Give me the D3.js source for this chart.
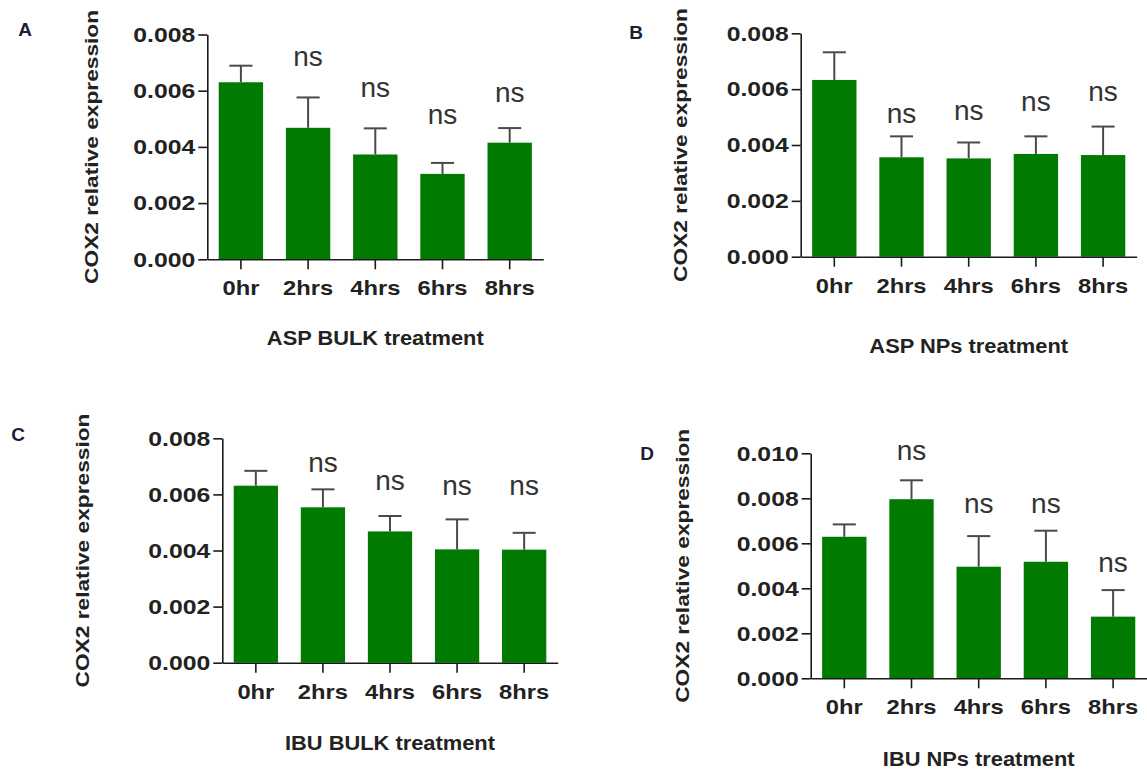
<!DOCTYPE html>
<html><head><meta charset="utf-8">
<script src="https://cdn.jsdelivr.net/npm/d3@7"></script>
<style>body{margin:0;background:#fff} svg{display:block}</style>
</head><body>
<svg id="chart" width="1147" height="771"></svg>
<script>
// ---------- data ----------
const categories = ["0hr", "2hrs", "4hrs", "6hrs", "8hrs"];
const yTicks8 = [0, 0.002, 0.004, 0.006, 0.008];
const yTicks10 = [0, 0.002, 0.004, 0.006, 0.008, 0.010];

const aspBulkMean = [0.00630, 0.00468, 0.00373, 0.00304, 0.00415];
const aspBulkSEM  = [0.00059, 0.00108, 0.00093, 0.00039, 0.00052];
const aspBulkNs   = [null, 0.00689, 0.00579, 0.00481, 0.00559];

const aspNpMean = [0.00633, 0.00356, 0.00352, 0.00368, 0.00364];
const aspNpSEM  = [0.00099, 0.00075, 0.00057, 0.00063, 0.00102];
const aspNpNs   = [null, 0.00478, 0.00490, 0.00520, 0.00556];

const ibuBulkMean = [0.00631, 0.00554, 0.00468, 0.00404, 0.00403];
const ibuBulkSEM  = [0.00053, 0.00064, 0.00055, 0.00107, 0.00060];
const ibuBulkNs   = [null, 0.00681, 0.00616, 0.00598, 0.00598];

const ibuNpMean = [0.00629, 0.00796, 0.00496, 0.00518, 0.00274];
const ibuNpSEM  = [0.00055, 0.00084, 0.00136, 0.00138, 0.00118];
const ibuNpNs   = [null, 0.00970, 0.00733, 0.00733, 0.00471];

const yTitle = "COX2 relative expression";

// ---------- layout ----------
const panels = [
  {letter: "A", title: "ASP BULK treatment", mean: aspBulkMean, sem: aspBulkSEM, ns: aspBulkNs, yMax: 0.008, ticks: yTicks8,
   L: {x0: 207.3, x1: 543.3, yTop: 34.5, y0: 259.3, yTitleX: 91, xTitleY: 338.3, letterX: 25, letterY: 29}},
  {letter: "B", title: "ASP NPs treatment", mean: aspNpMean, sem: aspNpSEM, ns: aspNpNs, yMax: 0.008, ticks: yTicks8,
   L: {x0: 800.7, x1: 1136.7, yTop: 33.3, y0: 256.7, yTitleX: 680, xTitleY: 346, letterX: 636, letterY: 32.5}},
  {letter: "C", title: "IBU BULK treatment", mean: ibuBulkMean, sem: ibuBulkSEM, ns: ibuBulkNs, yMax: 0.008, ticks: yTicks8,
   L: {x0: 222.3, x1: 557.7, yTop: 438.3, y0: 662.7, yTitleX: 82, xTitleY: 743.3, letterX: 18, letterY: 434}},
  {letter: "D", title: "IBU NPs treatment", mean: ibuNpMean, sem: ibuNpSEM, ns: ibuNpNs, yMax: 0.010, ticks: yTicks10,
   L: {x0: 810.7, x1: 1146.7, yTop: 453.3, y0: 678.3, yTitleX: 682, xTitleY: 759, letterX: 647, letterY: 453}}
];

const FONT = "Arial, 'Liberation Sans', Helvetica, sans-serif";
const BAR = "#007a00";
const ERR = "#4a4a4a";
const AXIS = "#1a1a1a";
const TXT = "#222";

function stretch(sel, k) {
  sel.each(function () {
    const w = this.getComputedTextLength();
    this.setAttribute("textLength", w * k);
    this.setAttribute("lengthAdjust", "spacingAndGlyphs");
  });
}

const svg = d3.select("#chart");

panels.forEach(p => {
  const L = p.L;
  const x = d3.scaleBand().domain(categories).range([L.x0, L.x1]).paddingInner(0.34).paddingOuter(0.17);
  const y = d3.scaleLinear().domain([0, p.yMax]).range([L.y0, L.yTop]);
  const g = svg.append("g");
  const cx = d => x(d) + x.bandwidth() / 2;

  // bars
  g.selectAll("rect.bar").data(categories).join("rect")
    .attr("class", "bar")
    .attr("x", d => x(d)).attr("width", x.bandwidth())
    .attr("y", (d, i) => y(p.mean[i]))
    .attr("height", (d, i) => y(0) - y(p.mean[i]))
    .attr("fill", BAR);

  // error bars (upper)
  const capW = x.bandwidth() * 0.52;
  g.selectAll("line.ev").data(categories).join("line")
    .attr("class", "ev")
    .attr("x1", cx).attr("x2", cx)
    .attr("y1", (d, i) => y(p.mean[i]))
    .attr("y2", (d, i) => y(p.mean[i] + p.sem[i]))
    .attr("stroke", ERR).attr("stroke-width", 2);
  g.selectAll("line.ec").data(categories).join("line")
    .attr("class", "ec")
    .attr("x1", d => cx(d) - capW / 2).attr("x2", d => cx(d) + capW / 2)
    .attr("y1", (d, i) => y(p.mean[i] + p.sem[i]))
    .attr("y2", (d, i) => y(p.mean[i] + p.sem[i]))
    .attr("stroke", ERR).attr("stroke-width", 2);

  // ns labels
  g.selectAll("text.ns").data(categories.filter((d, i) => p.ns[i] != null)).join("text")
    .attr("class", "ns")
    .attr("x", cx)
    .attr("y", d => y(p.ns[categories.indexOf(d)]))
    .attr("text-anchor", "middle")
    .attr("font-family", FONT).attr("font-size", 28).attr("fill", "#333")
    .text("ns");

  // y axis
  const ya = g.append("g").attr("transform", `translate(${L.x0},0)`)
    .call(d3.axisLeft(y).tickValues(p.ticks).tickFormat(d3.format(".3f")).tickSize(9).tickPadding(3).tickSizeOuter(0));
  ya.select(".domain").attr("stroke", AXIS).attr("stroke-width", 1.6);
  ya.selectAll(".tick line").attr("stroke", AXIS).attr("stroke-width", 1.6);
  ya.selectAll(".tick text").attr("font-family", FONT).attr("font-size", 21).attr("font-weight", "bold").attr("fill", TXT);
  stretch(ya.selectAll(".tick text"), 1.18);

  // x axis
  const xa = g.append("g").attr("transform", `translate(0,${L.y0})`)
    .call(d3.axisBottom(x).tickSize(10).tickSizeOuter(0));
  xa.select(".domain").attr("stroke", AXIS).attr("stroke-width", 1.6);
  xa.selectAll(".tick line").attr("stroke", AXIS).attr("stroke-width", 1.6);
  xa.selectAll(".tick text").attr("font-family", FONT).attr("font-size", 21).attr("font-weight", "bold").attr("fill", TXT)
    .attr("y", 36).attr("dy", 0);
  stretch(xa.selectAll(".tick text"), 1.13);

  // x title
  const xt = g.append("text")
    .attr("x", (L.x0 + L.x1) / 2).attr("y", L.xTitleY + 7)
    .attr("text-anchor", "middle")
    .attr("font-family", FONT).attr("font-size", 19.5).attr("font-weight", "bold").attr("fill", TXT)
    .text(p.title);
  stretch(xt, 1.12);

  // y title
  g.append("text")
    .attr("transform", `translate(${L.yTitleX},${(L.y0 + L.yTop) / 2}) rotate(-90)`)
    .attr("text-anchor", "middle").attr("dy", "0.35em")
    .attr("font-family", FONT).attr("font-size", 19).attr("font-weight", "bold").attr("fill", TXT)
    .attr("textLength", 274).attr("lengthAdjust", "spacingAndGlyphs")
    .text(yTitle);

  // panel letter
  g.append("text")
    .attr("x", L.letterX).attr("y", L.letterY).attr("dy", "0.36em")
    .attr("text-anchor", "middle")
    .attr("font-family", FONT).attr("font-size", 19).attr("font-weight", "bold").attr("fill", "#1c1c36")
    .text(p.letter);
});
</script>
</body></html>
